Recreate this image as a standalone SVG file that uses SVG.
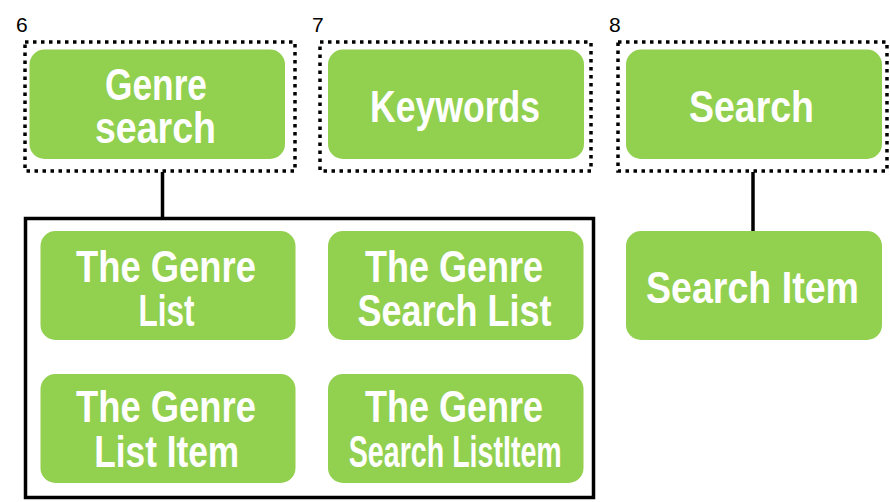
<svg xmlns="http://www.w3.org/2000/svg" width="890" height="502" viewBox="0 0 890 502">
<style>
.node{fill:#92D050}
.lbl{fill:#ffffff;font-family:"Liberation Sans",Arial,sans-serif;font-weight:bold;font-size:44px;text-anchor:middle}
.num{fill:#000000;font-family:"Liberation Sans",Arial,sans-serif;font-size:21px}
.dot{fill:none;stroke:#000000;stroke-width:3.5;stroke-dasharray:3.5 4.5}
.frame{fill:none;stroke:#000000;stroke-width:3.5}
.conn{stroke:#000000;stroke-width:3.5;fill:none}
</style>
<rect width="890" height="502" fill="#ffffff"/>
<g id="labels">
<text class="num" x="16" y="32">6</text>
<text class="num" x="312" y="32">7</text>
<text class="num" x="609" y="32">8</text>
</g>
<g id="connectors">
<line class="conn" x1="162.5" y1="172" x2="162.5" y2="218"/>
<line class="conn" x1="753" y1="172" x2="753" y2="231"/>
</g>
<g id="genre-search">
<rect class="dot" x="25" y="42" width="270" height="129"/>
<rect class="node" x="29.5" y="49.5" width="255.5" height="109.5" rx="15"/>
<text class="lbl" x="156" y="100" textLength="102" lengthAdjust="spacingAndGlyphs">Genre</text>
<text class="lbl" x="155.5" y="143" textLength="121" lengthAdjust="spacingAndGlyphs">search</text>
</g>
<g id="keywords">
<rect class="dot" x="320" y="42" width="271" height="129"/>
<rect class="node" x="328" y="49.5" width="256" height="109.5" rx="15"/>
<text class="lbl" x="455" y="122" textLength="170" lengthAdjust="spacingAndGlyphs">Keywords</text>
</g>
<g id="search">
<rect class="dot" x="618" y="42" width="269" height="129"/>
<rect class="node" x="626" y="49.5" width="256" height="109.5" rx="15"/>
<text class="lbl" x="751.5" y="122" textLength="125" lengthAdjust="spacingAndGlyphs">Search</text>
</g>
<g id="search-item">
<rect class="node" x="626" y="231" width="256" height="109" rx="15"/>
<text class="lbl" x="752.5" y="303" textLength="213" lengthAdjust="spacingAndGlyphs">Search Item</text>
</g>
<g id="genre-group">
<rect class="frame" x="25.5" y="218.5" width="568" height="279"/>
</g>
<g id="genre-list">
<rect class="node" x="40.5" y="231" width="255" height="109" rx="15"/>
<text class="lbl" x="166" y="282" textLength="180" lengthAdjust="spacingAndGlyphs">The Genre</text>
<text class="lbl" x="166.5" y="326" textLength="56" lengthAdjust="spacingAndGlyphs">List</text>
</g>
<g id="genre-search-list">
<rect class="node" x="328" y="231" width="255.5" height="109" rx="15"/>
<text class="lbl" x="454" y="282" textLength="178" lengthAdjust="spacingAndGlyphs">The Genre</text>
<text class="lbl" x="454.5" y="326" textLength="194" lengthAdjust="spacingAndGlyphs">Search List</text>
</g>
<g id="genre-list-item">
<rect class="node" x="40.5" y="374" width="255" height="109" rx="15"/>
<text class="lbl" x="166" y="422" textLength="180" lengthAdjust="spacingAndGlyphs">The Genre</text>
<text class="lbl" x="166.7" y="467" textLength="145" lengthAdjust="spacingAndGlyphs">List Item</text>
</g>
<g id="genre-search-listitem">
<rect class="node" x="328" y="374" width="255.5" height="109" rx="15"/>
<text class="lbl" x="454" y="422" textLength="178" lengthAdjust="spacingAndGlyphs">The Genre</text>
<text class="lbl" x="455.3" y="467" textLength="213" lengthAdjust="spacingAndGlyphs">Search ListItem</text>
</g>
</svg>
